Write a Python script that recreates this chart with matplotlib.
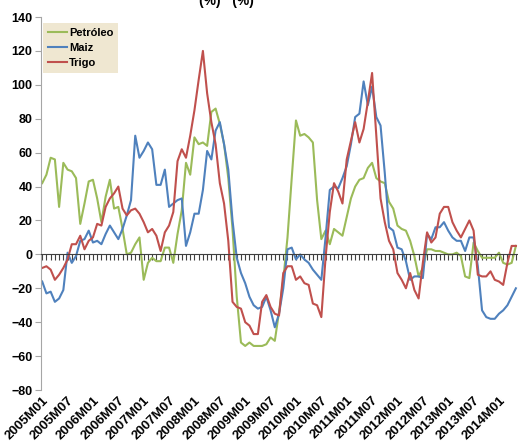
import matplotlib.pyplot as plt
import numpy as np

plt.rcParams['font.family'] = ['Liberation Sans', 'DejaVu Sans']

# monthly series 2005M01 .. 2014M05 (% change)
months = [f"{y}M{m:02d}" for y in range(2005, 2015) for m in range(1, 13)][:113]

petroleo = [42, 47, 57, 56, 28, 54, 50, 49, 45, 18,
            30, 43, 44, 33, 19, 34, 44, 27, 28, 15,
            0, 1, 6, 10, -15, -5, -2, -4, -4, 4,
            4, -5, 12, 26, 54, 47, 69, 65, 66, 64,
            84, 86, 77, 65, 45, 15, -25, -52, -54, -52,
            -54, -54, -54, -53, -49, -51, -34, -15, 10, 45,
            79, 70, 71, 69, 66, 32, 9, 14, 6, 15,
            13, 11, 22, 33, 40, 44, 45, 51, 54, 45,
            43, 42, 31, 27, 17, 15, 14, 8, -1, -13,
            -8, 3, 3, 2, 2, 1, 0, 0, 1, -1,
            -13, -14, 7, 2, -2, -2, -2, -2, 1, -5,
            -6, -5, 5]

maiz = [-16, -23, -22, -28, -26, -21, 1, -5, -1, 8,
        9, 14, 7, 8, 6, 12, 17, 13, 9, 15,
        23, 32, 70, 57, 61, 66, 62, 41, 41, 50,
        28, 30, 32, 33, 5, 13, 24, 24, 38, 61,
        56, 73, 78, 65, 50, 20, -2, -11, -17, -25,
        -30, -32, -31, -25, -33, -43, -35, -20, 3, 4,
        -3, 0, -3, -5, -9, -12, -15, 10, 38, 40,
        39, 45, 52, 65, 81, 83, 102, 88, 99, 81,
        76, 48, 16, 14, 4, 3, -4, -15, -13, -13,
        -14, 12, 9, 16, 16, 19, 14, 10, 8, 8,
        2, 10, 10, -7, -33, -37, -38, -38, -35, -33,
        -30, -25, -20]

trigo = [-8, -7, -9, -15, -12, -8, -3, 6, 6, 11,
         3, 8, 10, 18, 17, 28, 33, 36, 40, 27,
         23, 26, 27, 24, 19, 13, 15, 11, 2, 13,
         17, 25, 55, 62, 57, 70, 85, 103, 120, 95,
         78, 65, 42, 30, 8, -28, -31, -32, -40, -42,
         -47, -47, -28, -24, -31, -35, -36, -11, -7, -7,
         -15, -13, -17, -18, -29, -30, -37, -2, 25, 42,
         37, 30, 56, 67, 78, 66, 74, 90, 107, 70,
         33, 19, 8, 3, -11, -15, -20, -11, -21, -26,
         -5, 13, 7, 10, 24, 28, 28, 19, 14, 10,
         15, 20, 14, -12, -13, -13, -10, -15, -16, -18,
         -5, 5, 5]

tick_labels = months[::6]

fig = plt.figure(figsize=(5.18, 4.42), dpi=100)
ax = fig.add_axes([0.079, 0.1176, 0.921, 0.8439])

x = np.arange(len(months))
ax.plot(x, petroleo, color='#9bbb59', lw=1.5, label='Petróleo')
ax.plot(x, maiz, color='#4f81bd', lw=1.5, label='Maiz')
ax.plot(x, trigo, color='#c0504d', lw=1.5, label='Trigo')

ax.set_xlim(-0.3, 112.5)
ax.set_ylim(-80, 140)
ax.set_yticks(range(-80, 141, 20))
for lab in ax.get_yticklabels():
    lab.set_fontweight('bold')
    lab.set_fontsize(9)
ax.tick_params(axis='y', length=4, color='#a6a6a6', pad=2)

# zero line with monthly ticks
ax.spines['bottom'].set_position(('data', 0))
ax.spines['bottom'].set_color('#404040')
ax.set_xticks(x)
ax.set_xticklabels([])
ax.tick_params(axis='x', length=4, direction='out', color='#404040', width=0.8)
ax.spines['left'].set_color('#a6a6a6')
ax.spines['top'].set_visible(False)
ax.spines['right'].set_visible(False)

# category labels at the bottom of the plot
sec = ax.secondary_xaxis('bottom')
sec.set_xticks(x[::6], tick_labels)
sec.tick_params(length=0, pad=3)
for lab in sec.get_xticklabels():
    lab.set_rotation(45)
    lab.set_ha('right')
    lab.set_va('top')
    lab.set_rotation_mode('anchor')
    lab.set_fontweight('bold')
    lab.set_fontsize(9.5)
sec.spines['bottom'].set_visible(False)

leg = ax.legend(loc='upper left', bbox_to_anchor=(0.005, 0.985), borderaxespad=0,
                frameon=True, fancybox=False, handlelength=1.7, handletextpad=0.15,
                labelspacing=0.45, borderpad=0.45, prop={'weight': 'bold', 'size': 8})
leg.get_frame().set_facecolor('#ece2c6')
leg.get_frame().set_edgecolor('none')

fig.text(0.438, 0.998, '(%)   (%)', ha='center', va='center', fontsize=10, fontweight='bold')

fig.savefig('out.png', dpi=100)
